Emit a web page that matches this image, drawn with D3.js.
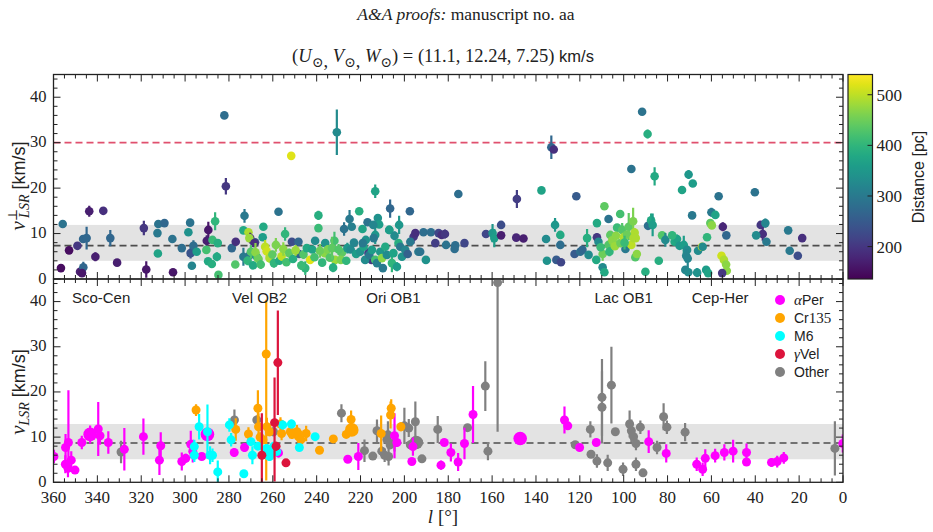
<!DOCTYPE html>
<html>
<head>
<meta charset="utf-8">
<script src="https://cdn.jsdelivr.net/npm/d3@7"></script>
<style>
  body { margin: 0; background: #fff; }
  svg text { fill: #222; }
</style>
</head>
<body>
<svg id="chart" width="933" height="532"></svg>
<script>
// top panel: [l, v_perp, err, distance pc]
const topPoints = [
  [355.8,12.1,0.5,290],[356.6,2.4,0.3,150],[352.9,6.3,0.4,150],[349.1,7.3,0.8,200],[347.9,1.6,0.5,170],
  [346.4,2.6,1.2,270],[347.0,1.3,0.5,160],[346.5,8.8,0.5,270],[344.9,9.0,2.5,270],[343.7,14.9,1.2,170],
  [340.9,4.9,1.0,170],[337.3,15.0,0.6,190],[334.1,9.0,1.8,270],[331.0,3.6,0.6,170],[318.8,11.2,1.6,200],
  [317.7,2.1,1.8,160],[312.6,10.1,0.4,300],[312.4,5.6,0.4,370],[312.2,12.1,0.4,290],[309.4,12.3,0.8,270],
  [305.8,8.8,0.4,290],[305.5,1.5,0.4,160],[301.5,6.8,0.4,280],[298.5,10.3,0.4,340],[297.7,12.4,0.5,290],
  [297.5,5.7,1.2,240],[296.2,7.3,1.2,280],[296.9,2.9,0.4,320],[294.7,6.0,0.4,360],[289.4,10.8,1.8,160],
  [290.1,8.4,1.2,170],[290.3,6.4,0.5,420],[286.3,12.7,2.0,400],[287.5,8.6,0.5,410],[285.1,7.9,0.5,390],
  [289.5,3.9,0.5,380],[287.8,3.3,0.5,390],[285.5,4.9,1.0,380],[284.8,0.9,0.5,420],[281.4,20.4,1.8,200],
  [282.1,36.0,0.5,280],[278.7,6.8,0.5,270],[276.9,8.2,0.8,190],[277.1,3.2,0.5,430],[272.9,13.9,1.5,300],
  [273.4,10.7,0.5,380],[271.1,10.3,0.6,490],[273.4,4.9,2.0,300],[270.3,9.0,1.2,180],[270.4,5.3,1.0,290],
  [268.1,8.1,0.6,250],[267.3,4.9,0.8,400],[257.4,14.8,0.5,290],[270.7,9.0,0.5,480],[268.4,7.9,0.8,190],
  [264.3,11.5,0.5,380],[264.6,9.2,0.5,360],[263.5,7.1,1.5,500],[254.4,9.9,1.5,400],[251.3,8.2,0.5,230],
  [248.3,8.2,0.5,270],[248.0,5.5,0.5,260],[243.0,4.2,0.5,520],[245.2,2.4,1.5,400],[239.2,14.0,1.0,390],
  [239.2,11.2,0.5,410],[240.7,8.4,0.5,330],[236.1,7.9,0.5,340],[236.3,5.7,0.5,470],[231.6,4.2,0.5,480],
  [228.5,5.8,0.5,440],[231.9,8.4,2.0,420],[227.5,11.0,1.5,290],[225.0,13.2,2.0,300],[224.0,11.5,0.5,310],
  [220.6,14.9,0.6,390],[219.1,11.0,0.5,370],[216.8,12.5,0.5,290],[213.3,19.3,1.5,370],[212.1,13.4,0.5,340],
  [211.5,12.0,0.5,360],[206.5,15.5,2.0,270],[206.9,10.8,0.5,380],[202.4,11.9,2.0,350],[197.5,14.9,0.6,270],
  [191.3,10.3,0.5,280],[187.9,10.3,0.5,280],[184.4,10.1,0.5,220],[193.6,6.0,0.5,300],[190.2,4.2,0.5,340],
  [195.8,9.3,1.5,200],[185.9,7.9,0.5,210],[209.8,2.4,0.5,300],[215.0,4.2,0.8,200],[216.4,5.7,1.2,200],
  [230.8,32.3,5.0,330],[251.6,27.1,0.8,520],[133.0,29.0,2.6,270],[131.9,28.5,0.4,190],[121.6,18.2,0.4,250],
  [148.7,17.6,2.0,210],[175.4,18.7,0.5,280],[137.5,19.5,0.4,370],
  [271.5,4.0,1.0,400],[270.0,6.0,1.5,430],[269.0,3.0,0.8,380],[267.9,5.9,2.0,470],[266.5,4.4,1.0,450],
  [265.5,3.2,1.0,420],[262.8,6.1,1.2,510],[261.5,4.6,1.0,490],[260.2,5.4,0.8,440],[259.5,3.5,1.0,400],
  [258.6,7.5,1.5,460],[257.0,4.0,0.8,380],[256.0,5.0,1.0,500],[255.2,6.6,1.5,470],[253.8,3.7,0.8,420],
  [252.5,5.7,1.0,440],[250.8,4.4,0.8,390],[249.6,6.3,1.2,480],[247.0,3.0,1.0,410],[246.0,5.4,1.0,430],
  [244.5,6.8,0.6,380],[242.0,6.5,0.6,370],[241.0,4.8,0.8,420],[238.5,6.2,1.5,450],[237.5,3.6,0.8,400],
  [235.0,6.5,1.0,460],[234.0,4.7,0.6,430],[233.0,6.8,2.5,440],[232.5,2.5,1.0,390],[230.0,6.5,1.2,430],
  [229.0,4.2,0.8,460],[226.0,6.8,1.2,350],[226.5,4.0,0.8,400],[224.5,6.5,0.5,330],[223.0,8.0,0.5,320],
  [222.0,5.5,0.8,360],[220.2,6.0,0.5,340],[218.6,7.1,0.5,370],[217.9,4.2,0.5,330],[216.0,5.3,0.5,300],
  [214.8,6.4,0.5,360],[213.3,4.2,0.5,420],[212.5,3.5,0.5,310],[211.0,6.0,0.5,350],[210.2,4.6,0.5,470],
  [208.7,7.1,0.5,380],[208.0,5.3,0.5,330],[205.7,3.5,2.0,400],[205.0,5.7,0.5,370],[203.4,2.7,1.0,360],
  [202.7,7.9,0.5,390],[201.9,7.1,0.5,300],[201.1,4.9,0.5,340],[199.6,6.4,0.5,320],[197.3,8.2,0.5,300],
  [195.0,10.1,0.5,190],[192.8,6.0,0.5,290],[198.5,5.5,0.5,260],[213.3,9.7,2.0,350],[214.0,9.0,0.5,300],
  [214.2,11.9,0.5,320],[217.6,8.6,0.5,340],[219.0,7.9,0.5,300],[206.9,10.8,0.5,360],[204.5,9.5,1.0,330],
  [183.0,9.7,0.5,190],[181.5,9.9,1.0,200],[181.0,7.5,0.5,290],[176.8,7.4,0.5,280],[177.1,6.6,0.5,280],
  [172.6,7.9,0.5,220],[162.8,9.9,0.5,220],[155.9,11.9,0.6,230],[159.8,10.1,2.0,350],[159.0,9.0,2.0,360],
  [155.9,9.6,0.6,170],[149.0,9.1,0.5,180],[145.7,8.9,0.5,170],[135.4,8.8,0.4,330],[135.0,4.0,0.4,340],
  [131.3,11.9,1.5,350],[128.9,9.7,0.4,380],[128.9,7.5,0.4,280],[130.7,4.2,0.4,250],[128.6,3.7,0.4,220],
  [122.4,5.5,0.4,250],[119.8,6.0,0.4,280],[118.8,6.4,0.5,270],[116.7,9.0,2.0,390],[116.0,5.3,0.4,330],
  [112.2,9.2,0.8,200],[112.2,12.3,0.4,380],[108.8,16.0,0.4,440],[106.9,13.2,0.4,290],[109.6,5.5,1.5,450],
  [112.5,4.2,0.4,380],[109.6,2.6,0.4,330],[108.8,1.5,0.4,380],[101.6,14.3,0.4,420],[103.0,11.3,0.4,410],
  [100.7,10.8,1.5,430],[106.1,9.7,0.4,440],[106.9,7.5,0.4,430],[104.5,7.8,0.5,460],[99.2,6.6,0.4,300],
  [97.7,11.5,3.0,440],[95.7,12.7,3.0,460],[95.0,10.2,1.0,490],[94.7,4.8,0.5,430],
  [111.5,8.2,0.5,330],[110.5,7.0,0.8,410],[106.5,6.0,1.0,400],[105.2,8.5,0.5,470],[104.0,7.2,0.5,480],
  [103.5,9.5,0.5,470],[101.5,7.9,0.5,450],[100.0,9.2,1.0,490],[98.5,9.8,0.5,450],[96.5,7.5,0.5,500],
  [95.5,9.0,0.6,490],[99.6,8.0,1.5,410],[94.5,9.0,0.5,490],[94.0,5.5,0.5,470],
  [91.6,36.8,0.4,290],[89.1,31.9,1.0,390],[96.5,24.2,0.4,290],[85.9,22.6,2.0,380],[73.4,19.6,0.4,370],
  [70.4,23.0,1.0,350],[68.5,21.0,0.4,360],[56.7,18.2,0.4,290],[40.2,19.1,0.8,290],
  [60.0,14.7,1.0,300],[58.2,14.1,0.4,370],[68.8,14.0,0.4,300],[60.5,12.3,0.4,440],[59.8,11.8,0.4,470],
  [54.8,11.5,1.0,180],[53.2,9.6,0.4,270],[37.5,11.9,0.4,200],[35.4,12.3,1.0,320],[36.6,9.9,1.5,190],
  [34.9,8.2,0.4,300],[39.6,9.6,0.4,330],[25.0,10.7,0.4,300],[18.6,9.0,0.4,190],[24.3,6.2,0.4,300],
  [20.6,5.1,0.4,230],[88.9,11.7,0.4,280],[87.5,12.9,1.5,380],[86.8,11.9,2.5,360],[82.5,9.6,0.4,430],
  [81.0,8.6,1.5,330],[84.0,4.0,0.4,390],[90.1,1.6,0.4,390],[76.8,8.2,0.4,380],[75.7,8.8,1.0,370],
  [74.5,7.3,0.4,350],[72.6,7.5,2.0,360],[71.1,6.4,0.4,330],[71.5,5.1,1.5,320],[70.8,4.5,2.0,320],
  [66.1,6.2,0.4,330],[64.3,7.1,0.8,520],[64.0,7.1,0.4,330],[62.0,9.2,0.4,400],[77.9,9.6,0.4,400],
  [71.9,2.0,0.4,320],[70.5,1.5,0.4,330],[66.5,1.4,1.0,340],[62.4,2.0,0.4,360],[61.5,1.3,0.4,370],
  [55.4,5.1,0.4,510],[54.3,4.2,0.4,490],[53.3,3.2,0.4,470],[53.0,1.8,0.4,470],[55.1,1.3,0.4,200]
];

// bottom panel: [l, v, errLo, errHi, members]
const alphaPer = [
  [359.8,5.7,1.5,1.5,1],[354.5,7.7,3,3,1],[353.2,8.8,6,11.6,1],[354.6,4.0,2,2,1],[353.4,3.1,2,2,1],
  [351.9,4.9,2,2,1],[350.2,2.7,0.5,0.5,1],[347.1,8.8,1.5,1.5,1],[343.3,10.6,2,2,2],[339.6,11.8,6,6,1],
  [338.8,10.3,2,2,1],[335.0,8.8,2.5,2.5,1],[327.7,7.3,4.7,4.7,1],[319.0,10.1,4,4,1],[311.7,4.9,3.3,3.3,1],
  [311.1,8.1,3,3,1],[301.5,4.6,2,2,1],[299.7,5.3,1,1,1],[297.4,8.4,3,3,1],[296.5,6.9,2.5,2.5,1],
  [292.4,5.7,0.5,0.5,1],[289.8,10.6,1,1,2],[277.6,6.6,1,1,1],[272.9,7.7,1,1,1],[257.4,6.5,1,1,1],
  [225.8,5.1,0.5,0.5,1],[221.0,5.7,3,3,1],[204.5,10.3,5,5,1],[203.4,8.8,1,1,1],[196.1,7.9,2,2,1],
  [196.6,4.6,0.5,0.5,1],[181.8,8.8,0.5,0.5,1],[183.3,3.8,1,1,1],[178.8,6.6,2,2,1],[175.5,4.5,2,2,1],
  [172.6,8.6,3.5,3.5,1],[168.7,15.0,6.3,6.3,1],[147.2,9.7,0.3,0.3,2],[127.0,13.8,3,3,1],[125.5,12.5,0.5,0.5,1],
  [120.1,7.7,0.5,0.5,1],[112.5,8.8,0.5,0.5,1],[88.6,9.0,2.5,2.5,1],[80.6,6.4,2,2,1],[66.7,4.0,1.5,1.5,1],
  [64.0,2.9,1.5,1.5,1],[62.8,5.3,2,2,1],[58.3,5.9,1.5,1.5,1],[54.1,6.6,1.8,1.8,1],[50.1,6.9,2.5,2.5,1],
  [44.0,6.6,2,2,1],[44.0,4.5,0.5,0.5,1],[32.6,4.4,1,1,1],[30.0,4.6,1.3,1.3,1],[27.0,5.4,1.3,1.3,1],
  [0.1,8.6,2,2,1]
];
const cr135 = [
  [295.0,16.0,1.3,1.3,1],[276.9,11.7,2.5,2.5,1],[271.1,10.7,1.5,1.5,1],[266.8,16.4,4,4,1],[266.5,12.3,3,3,1],
  [265.8,10.0,1,1,1],[264.5,9.4,1,1,1],[263.0,28.4,28,12,1],[262.7,12.3,2,2,1],[261.5,11.2,1,1,1],
  [256.5,12.9,1.5,1.5,1],[256.0,10.8,1.5,1.5,1],[252.0,11.2,1.5,1.5,1],[251.2,10.6,1,1,1],[249.0,11.2,1.5,1.5,1],
  [248.3,10.1,1,1,1],[247.2,9.4,2,2,1],[244.8,10.8,1.7,1.7,1],[238.7,7.1,0.5,0.5,1],[232.4,9.6,0.5,0.5,1],
  [226.5,10.6,0.5,0.5,1],[224.3,13.9,2,2,1],[224.0,11.6,0.5,0.5,2],[210.6,10.8,4,4,1],[206.3,14.9,3,3,1],
  [206.0,16.4,2,2,1],[201.6,12.3,1,1,1]
];
const m6 = [
  [295.8,7.9,1.5,1.5,1],[295.8,6.0,1.5,1.5,1],[293.6,12.3,2.8,2.8,1],[289.8,11.2,6,6,1],[288.6,6.0,2,2,1],
  [287.5,6.0,1.5,1.5,1],[285.1,2.3,2.5,2.5,1],[279.8,12.7,1.5,1.5,1],[279.0,9.4,1.5,1.5,1],[273.2,1.9,0.5,0.5,1],
  [270.0,9.0,0.5,0.5,1],[269.3,6.0,2,2,1],[266.8,8.0,0.5,0.5,1],[264.0,6.2,1,1,1],[262.8,7.5,1,1,1],
  [261.5,5.7,1,1,1],[260.5,6.5,1,1,1],[259.5,8.0,1,1,1],[258.2,6.8,1,1,1],[255.5,12.7,1,1,1],
  [251.5,12.9,1,1,1],[247.9,7.7,0.5,0.5,1],[240.7,10.1,0.5,0.5,1]
];
const gammaVel = [
  [265.0,6.0,6,9.3,1],[259.2,13.2,13,10,1],[257.7,26.5,11.6,11.5,1],[258.5,8.0,1,1,1],[254.0,4.3,0.3,0.3,1]
];
const other = [
  [329.2,6.7,2.5,2.5,1],[277.5,13.8,2.3,2.3,1],[267.3,13.8,1,1,1],[259.7,11.2,1,1,1],[228.7,15.3,2,2,1],
  [218.2,7.0,2.5,2.5,1],[214.4,5.8,0.5,0.5,1],[212.5,11.4,2.5,2.5,1],[210.3,6.9,1,1,1],[209.0,6.0,1.5,1.5,1],
  [208.0,9.5,1,1,1],[207.5,10.5,3,3,1],[207.2,5.7,2,2,1],[206.5,8.3,1,1,1],[204.5,8.8,2,2,1],
  [200.0,12.5,4,4,1],[198.0,12.0,2,2,1],[197.3,8.3,1,1,1],[195.0,13.4,4.5,4.5,1],[194.6,8.8,1,1,2],
  [193.5,8.9,1,1,1],[192.0,5.2,0.5,0.5,1],[184.8,11.7,3,3,1],[171.2,12.1,0.5,0.5,1],[163.1,21.3,5.5,5.5,1],
  [161.9,6.9,2,2,1],[157.5,44.2,33,0,1],[122.1,8.3,0.5,0.5,1],[115.2,11.7,1.8,1.8,1],[114.9,6.2,0.5,0.5,1],
  [112.2,4.7,1.5,1.5,1],[109.9,18.8,8.5,8.5,1],[109.9,16.6,8,8,1],[107.3,4.3,1.8,1.8,1],[105.6,21.5,8.5,8.5,1],
  [103.8,11.2,0.5,0.5,1],[100.3,2.9,1.5,1.5,1],[97.3,12.9,3,3,1],[96.5,11.4,2.5,2.5,1],[95.5,10.1,0.5,0.5,1],
  [94.4,8.6,1.5,1.5,1],[94.4,4.0,1.5,1.5,1],[92.4,12.2,1.5,1.5,1],[91.2,2.1,0.8,0.8,1],[84.8,7.7,1.5,1.5,1],
  [81.8,14.5,3,3,1],[80.3,12.2,1.5,1.5,1],[72.0,11.1,2,2,1],[3.7,7.5,6,6,1]
];

const regions = [["Sco-Cen", 338.3], ["Vel OB2", 266], ["Ori OB1", 205], ["Lac OB1", 100], ["Cep-Her", 56]];
const xTicks = d3.range(0, 361, 20);
const yTicks = [0, 10, 20, 30, 40];
const cbarTicks = [200, 300, 400, 500];
const distRange = [136, 540];
const topBand = [4.0, 11.9], topMean = 7.35, topLimit = 30;
const botBand = [5.1, 12.9], botMean = 8.7;

const svg = d3.select("#chart");
const serif = "'Liberation Serif', 'DejaVu Serif', serif";
const sans = "'Liberation Sans', 'DejaVu Sans', sans-serif";

const L = 53.5, R = 843;
const x = d3.scaleLinear().domain([360, 0]).range([L, R]);
const yTop = d3.scaleLinear().domain([0, 45]).range([279, 74.5]);
const yBot = d3.scaleLinear().domain([0, 45]).range([482.3, 279]);
const color = d3.scaleSequential(d3.interpolateViridis).domain(distRange);

// titles
svg.append("text").attr("x", 466).attr("y", 20).attr("text-anchor", "middle")
  .attr("font-family", serif).attr("font-size", 17.5)
  .call(t => {
    t.append("tspan").attr("font-style", "italic").text("A&A proofs:");
    t.append("tspan").text(" manuscript no. aa");
  });
const sub = svg.append("text").attr("x", 443).attr("y", 62).attr("text-anchor", "middle")
  .attr("font-family", serif).attr("font-size", 18.5);
sub.append("tspan").text("(");
["U", "V", "W"].forEach((s, i) => {
  sub.append("tspan").attr("font-style", "italic").attr("dy", i ? -5 : 0).text(s);
  sub.append("tspan").attr("font-size", 14).attr("dy", 5).text("\u2299");
  if (i < 2) sub.append("tspan").text(", ");
});
sub.append("tspan").attr("dy", -5).text(") = (11.1, 12.24, 7.25) ");
sub.append("tspan").attr("font-family", sans).attr("font-size", 16.5).text("km/s");

function panel(top, bottom, id) {
  const g = svg.append("g");
  g.append("clipPath").attr("id", id).append("rect")
    .attr("x", L).attr("y", top).attr("width", R - L).attr("height", bottom - top);
  return g;
}

function band(g, yScale, b, mean) {
  g.append("rect").attr("x", L).attr("width", R - L)
    .attr("y", yScale(b[1])).attr("height", yScale(b[0]) - yScale(b[1])).attr("fill", "#e3e3e3");
  g.append("line").attr("x1", L).attr("x2", R).attr("y1", yScale(mean)).attr("y2", yScale(mean))
    .attr("stroke", "#4d4d4d").attr("stroke-width", 1.6).attr("stroke-dasharray", "7,4");
}

function frame(g, yScale, top, bottom, labelX) {
  const minorX = d3.range(0, 361, 5), minorY = d3.range(0, 45, 2);
  const tk = g.append("g").attr("stroke", "#222").attr("stroke-width", 1);
  minorX.forEach(v => {
    const len = v % 20 === 0 ? 7 : 4;
    tk.append("line").attr("x1", x(v)).attr("x2", x(v)).attr("y1", bottom).attr("y2", bottom - len);
    tk.append("line").attr("x1", x(v)).attr("x2", x(v)).attr("y1", top).attr("y2", top + len);
  });
  minorY.forEach(v => {
    const len = v % 10 === 0 ? 7 : 4;
    tk.append("line").attr("x1", L).attr("x2", L + len).attr("y1", yScale(v)).attr("y2", yScale(v));
    tk.append("line").attr("x1", R).attr("x2", R - len).attr("y1", yScale(v)).attr("y2", yScale(v));
  });
  g.append("rect").attr("x", L).attr("y", top).attr("width", R - L).attr("height", bottom - top)
    .attr("fill", "none").attr("stroke", "#222").attr("stroke-width", 1.3);
  yTicks.forEach(v => {
    g.append("text").attr("x", L - 7).attr("y", yScale(v) + 4.5).attr("text-anchor", "end")
      .attr("font-family", serif).attr("font-size", 16.5).text(v);
  });
  if (labelX) {
    xTicks.forEach(v => {
      g.append("text").attr("x", x(v)).attr("y", bottom + 21).attr("text-anchor", "middle")
        .attr("font-family", serif).attr("font-size", 17).text(v);
    });
  }
}

function drawPoint(g, d, yScale, c, r, lo, hi) {
  if (lo + hi > 0) {
    g.append("line").attr("x1", x(d[0])).attr("x2", x(d[0]))
      .attr("y1", yScale(d[1] - lo)).attr("y2", yScale(d[1] + hi))
      .attr("stroke", c).attr("stroke-width", 2.2);
  }
  g.append("circle").attr("cx", x(d[0])).attr("cy", yScale(d[1])).attr("r", r).attr("fill", c);
}

// ---- top panel
const gTop = panel(74.5, 279, "clipTop");
band(gTop, yTop, topBand, topMean);
gTop.append("line").attr("x1", L).attr("x2", R).attr("y1", yTop(topLimit)).attr("y2", yTop(topLimit))
  .attr("stroke", "#e0506e").attr("stroke-width", 1.6).attr("stroke-dasharray", "7,4");
const ptsTop = gTop.append("g").attr("clip-path", "url(#clipTop)");
topPoints.forEach(d => drawPoint(ptsTop, d, yTop, color(d[3]), 4.3, d[2], d[2]));
frame(gTop, yTop, 74.5, 279, false);

// ---- bottom panel
const gBot = panel(279, 482.3, "clipBot");
band(gBot, yBot, botBand, botMean);
const ptsBot = gBot.append("g").attr("clip-path", "url(#clipBot)");
const groups = [
  { name: "Other", data: other, c: "#808080" },
  { name: "αPer", data: alphaPer, c: "#ff00ff" },
  { name: "Cr135", data: cr135, c: "#ffa500" },
  { name: "M6", data: m6, c: "#00ffff" },
  { name: "γVel", data: gammaVel, c: "#dc143c" }
];
const rSize = d3.scaleLinear().domain([1, 2]).range([4.5, 6.8]);
groups.forEach(gr => gr.data.forEach(d => drawPoint(ptsBot, d, yBot, gr.c, rSize(d[4]), d[2], d[3])));
frame(gBot, yBot, 279, 482.3, true);

regions.forEach(([name, l]) => {
  gBot.append("text").attr("x", x(l)).attr("y", 303).attr("text-anchor", "middle")
    .attr("font-family", sans).attr("font-size", 15).text(name);
});

// legend
const legendOrder = ["αPer", "Cr135", "M6", "γVel", "Other"];
legendOrder.forEach((n, i) => {
  const gr = groups.find(g => g.name === n);
  const yy = 300 + i * 18;
  gBot.append("circle").attr("cx", 780).attr("cy", yy).attr("r", 5).attr("fill", gr.c);
  const t = gBot.append("text").attr("x", 794).attr("y", yy + 5).attr("font-family", sans).attr("font-size", 14);
  if (n === "αPer" || n === "γVel") {
    t.append("tspan").attr("font-family", serif).attr("font-style", "italic").attr("font-size", 15).text(n[0]);
    t.append("tspan").text(n.slice(1));
  } else if (n === "Cr135") {
    t.append("tspan").text("Cr");
    t.append("tspan").attr("font-family", serif).attr("font-size", 15).text("135");
  } else t.text(n);
});

// axis labels
function yLabel(cx, cy, perp) {
  const t = svg.append("text").attr("transform", `translate(${cx},${cy}) rotate(-90)`)
    .attr("text-anchor", "middle").attr("font-family", serif).attr("font-size", 21);
  t.append("tspan").attr("font-style", "italic").text("v");
  if (perp) {
    t.append("tspan").attr("font-size", 13).attr("dy", -8).text("\u22A5");
    t.append("tspan").attr("font-size", 14).attr("font-style", "italic").attr("dx", -9).attr("dy", 12).text("LSR");
    t.append("tspan").attr("dy", -4).attr("font-family", sans).attr("font-size", 18).text(" [km/s]");
  } else {
    t.append("tspan").attr("font-size", 14).attr("font-style", "italic").attr("dy", 4).text("LSR");
    t.append("tspan").attr("dy", -4).attr("font-family", sans).attr("font-size", 18).text(" [km/s]");
  }
}
yLabel(25, 186, true);
yLabel(25, 392, false);

const xl = svg.append("text").attr("x", 443).attr("y", 523).attr("text-anchor", "middle")
  .attr("font-family", serif).attr("font-size", 19);
xl.append("tspan").attr("font-style", "italic").text("l");
xl.append("tspan").text(" [\u00B0]");

// colorbar
const cbX = 848, cbW = 24.5, cbTop = 74.5, cbBot = 279;
const yCb = d3.scaleLinear().domain(distRange).range([cbBot, cbTop]);
const defs = svg.append("defs");
const grad = defs.append("linearGradient").attr("id", "vir").attr("x1", 0).attr("y1", 1).attr("x2", 0).attr("y2", 0);
d3.range(0, 1.001, 0.05).forEach(t => grad.append("stop").attr("offset", t).attr("stop-color", d3.interpolateViridis(t)));
svg.append("rect").attr("x", cbX).attr("y", cbTop).attr("width", cbW).attr("height", cbBot - cbTop)
  .attr("fill", "url(#vir)").attr("stroke", "#222").attr("stroke-width", 1.2);
cbarTicks.forEach(v => {
  svg.append("line").attr("x1", cbX + cbW).attr("x2", cbX + cbW - 5).attr("y1", yCb(v)).attr("y2", yCb(v))
    .attr("stroke", "#222");
  svg.append("text").attr("x", cbX + cbW + 4).attr("y", yCb(v) + 6).attr("font-family", serif)
    .attr("font-size", 17).text(v);
});
svg.append("text").attr("transform", `translate(924,177) rotate(-90)`).attr("text-anchor", "middle")
  .attr("font-family", sans).attr("font-size", 16).text("Distance [pc]");
</script>
</body>
</html>
